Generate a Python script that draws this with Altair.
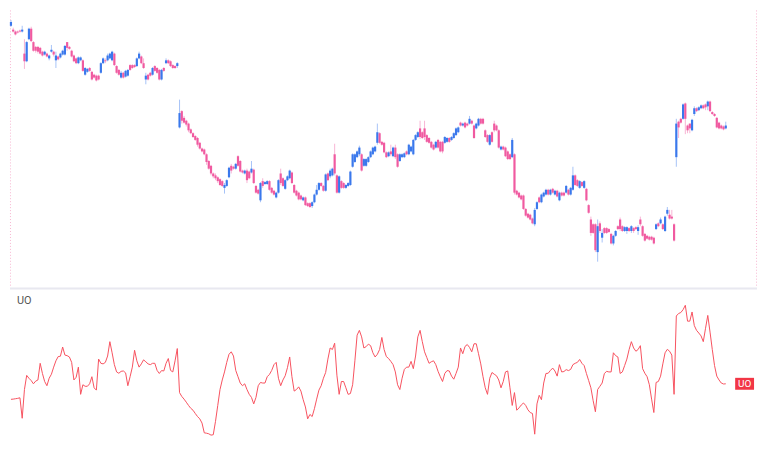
import altair as alt
import pandas as pd

BLUE = "#3a78ec"
PINK = "#f05aa0"
UO_RED = "#f7525f"
LABEL_RED = "#f23645"

# OHLC values (price units) read from the candles, left to right
open_ = [284,280,278,278,279,278,255,247,270,281,267,262,262,261,257,254,255,250,257,257,
         248,252,251,254,254,267,262,258,253,250,245,248,248,233,236,240,236,233,232,232,
         235,245,248,248,250,248,255,242,238,230,235,231,232,243,243,243,242,250,252,245,
         228,233,235,233,242,240,238,228,240,245,248,247,243,242,242,
         178,195,188,185,182,176,172,169,167,162,156,155,150,143,138,130,128,126,124,122,
         115,117,126,138,137,135,148,143,133,130,133,132,131,134,117,113,102,122,119,119,
         122,115,112,105,110,130,125,114,123,125,131,118,112,110,107,102,105,99,99,96,
         100,108,113,120,117,112,130,127,128,150,
         128,110,122,120,115,117,118,137,142,147,150,150,138,138,142,147,150,153,162,172,
         163,162,152,148,153,148,157,150,143,147,147,153,150,153,150,165,168,177,173,177,
         170,167,163,160,157,165,163,163,162,163,167,165,167,170,173,183,180,183,182,182,
         185,180,177,180,187,187,175,170,160,173,182,180,175,155,158,157,153,150,
         147,150,112,110,107,107,93,88,87,83,77,93,105,100,106,108,113,108,114,108,
         112,102,110,110,110,113,108,113,128,123,115,121,115,114,97,82,77,77,48,78,
         63,73,73,72,67,57,65,75,82,75,70,70,73,70,73,74,70,82,75,67,
         65,64,64,63,72,78,78,77,70,88,87,85,77,
         147,184,187,187,203,180,182,175,192,198,196,198,201,202,200,205,194,192,188,183,
         180,179,177]
high = [290,282,279,279,280,284,270,268,282,283,268,263,263,262,258,258,256,254,264,258,
        257,253,256,259,264,267,263,259,254,251,252,252,249,241,240,241,237,234,233,233,
        246,251,250,255,256,258,256,243,239,237,236,238,239,244,244,244,251,257,253,250,
        235,234,236,241,243,241,239,239,241,250,249,248,244,243,246,
        207,196,190,186,183,177,173,170,168,163,157,156,151,144,139,131,130,127,125,123,
        120,124,137,140,138,141,149,144,134,134,135,133,143,135,118,114,121,125,122,123,
        123,116,113,111,124,135,126,124,128,134,132,119,113,111,108,106,106,100,100,101,
        109,118,121,121,118,130,131,135,136,161,
        129,128,123,121,119,121,133,151,151,154,159,151,146,146,148,154,158,159,182,173,
        164,163,153,153,160,158,160,151,151,151,152,154,161,159,166,171,174,185,174,185,
        171,168,164,161,164,166,164,164,169,168,168,169,173,178,179,184,183,184,183,190,
        186,181,183,188,188,188,176,171,171,174,185,181,176,159,159,158,154,151,
        167,151,113,111,108,108,94,89,88,84,94,101,106,109,111,114,114,114,115,113,
        113,111,111,111,118,114,116,137,129,124,123,122,123,115,98,85,78,78,82,80,
        72,74,74,73,68,66,71,76,84,76,75,75,74,76,74,75,76,85,76,68,
        66,65,65,64,78,79,84,78,86,95,92,92,78,
        187,185,188,203,204,181,182,187,200,199,200,202,202,203,206,206,195,193,189,184,
        181,180,184]
low = [283,277,274,276,277,277,239,246,269,267,257,256,255,254,252,253,251,248,256,252,
       240,248,250,253,253,258,259,251,246,244,244,247,236,232,235,236,227,229,226,227,
       234,244,245,247,249,247,242,234,232,229,229,230,231,237,239,240,241,249,244,239,
       223,227,231,232,236,234,227,227,236,244,244,241,239,239,240,
       177,182,182,179,173,171,167,164,158,155,152,149,139,134,128,125,123,120,117,116,
       109,116,125,130,134,134,137,131,130,129,120,124,130,119,109,108,100,115,118,118,
       112,109,107,104,109,118,116,113,122,124,119,109,106,102,102,101,96,95,94,94,
       99,107,112,116,111,111,122,125,127,128,
       109,109,114,114,114,116,117,136,141,146,148,132,137,137,141,146,149,152,160,161,
       159,151,146,147,148,147,145,136,142,146,146,149,149,152,149,164,167,166,166,165,
       162,161,156,154,156,156,152,151,161,162,162,164,166,169,172,179,179,177,179,181,
       181,166,176,179,181,181,167,162,159,162,173,174,156,154,154,147,144,144,
       146,108,107,104,102,92,85,83,81,77,75,92,99,99,105,107,107,107,109,107,
       105,101,106,106,109,107,107,112,117,116,114,116,114,101,88,65,67,48,38,68,
       58,67,67,68,56,55,64,71,70,69,69,67,69,68,68,71,66,75,64,59,
       61,60,60,56,71,74,77,71,69,86,82,82,59,
       137,167,182,186,171,172,172,174,190,194,195,197,197,196,196,194,191,189,177,176,
       176,175,176]
close = [288,278,275,277,278,280,247,267,281,268,258,258,257,255,253,257,252,253,259,254,
         253,249,255,258,263,261,260,252,247,245,251,251,237,240,239,237,228,230,227,228,
         245,250,247,253,255,257,243,235,233,235,230,237,238,238,240,241,250,255,245,240,
         232,228,232,240,237,235,228,238,237,248,245,242,240,240,245,
         193,185,183,181,175,172,168,165,160,156,153,150,142,135,130,127,125,122,118,117,
         118,123,136,133,135,140,138,132,131,133,123,125,135,120,110,109,120,117,121,122,
         113,110,108,110,123,120,117,123,127,133,120,110,107,103,103,105,97,96,95,100,
         108,113,120,117,112,129,123,133,135,130,
         110,127,115,115,118,120,132,150,150,153,157,133,145,145,147,153,157,158,173,162,
         160,152,147,152,150,157,147,137,150,150,151,150,160,158,165,170,173,168,167,168,
         163,162,157,155,163,157,153,153,168,167,163,168,172,177,178,180,182,178,180,187,
         182,167,182,187,182,182,168,163,170,163,175,175,157,158,155,148,145,145,
         165,110,108,105,103,93,86,84,82,78,92,100,100,108,110,113,108,113,110,112,
         106,110,107,107,117,108,115,128,118,117,122,117,122,102,89,68,68,50,75,70,
         68,68,68,69,57,65,70,72,72,70,74,74,70,75,70,72,74,77,65,60,
         62,61,61,57,77,75,82,72,85,92,83,83,60,
         182,178,183,202,187,175,177,186,198,195,199,201,198,199,205,195,192,190,178,177,
         177,176,180]

# Ultimate Oscillator values, one per candle
uo = [42.2,42.3,42.5,42.7,43.0,32.3,47.3,54.7,53.2,52.0,50.3,
      51.7,52.3,61.0,55.7,51.5,49.3,53.2,55.3,59.0,62.3,
      64.5,64.7,69.5,65.3,65.0,64.3,61.5,52.3,53.7,59.0,
      44.8,49.8,49.0,49.0,50.3,54.0,48.2,47.0,63.2,61.0,
      60.7,61.5,64.8,72.3,66.5,60.3,56.5,55.8,56.8,57.0,
      56.0,49.3,54.0,59.0,67.8,62.3,59.0,60.7,62.8,61.8,
      60.7,60.3,61.0,61.0,57.3,55.7,57.2,57.0,61.0,63.5,
      57.3,56.5,62.3,68.7,45.7,43.7,42.3,40.7,39.0,37.5,
      36.5,34.8,33.2,32.0,29.8,24.7,24.5,24.2,23.5,23.7,
      30.7,39.0,47.3,52.3,56.5,61.5,65.7,67.0,64.8,57.3,
      54.0,50.7,49.3,50.3,47.3,44.8,43.2,39.8,43.2,49.3,
      51.0,50.7,50.7,54.0,55.2,57.3,60.3,61.5,53.2,49.3,
      52.3,54.5,58.7,64.3,54.0,46.5,47.3,48.7,46.5,42.0,
      38.2,32.0,34.3,33.2,37.3,42.3,47.0,49.3,53.2,56.2,
      63.2,69.0,68.2,71.5,54.8,44.8,51.5,51.5,48.2,44.8,
      45.2,49.8,62.3,75.7,78.2,74.8,69.0,69.7,71.0,70.2,
      66.5,64.3,65.7,68.2,74.5,68.2,64.5,63.5,62.0,60.3,
      56.5,49.8,47.3,53.2,57.8,59.0,59.0,62.0,58.2,64.8,
      74.8,78.2,72.3,67.0,64.0,61.0,61.8,62.3,60.3,56.8,
      54.0,51.5,55.7,57.2,57.0,54.3,52.7,55.7,59.0,69.0,
      66.0,69.8,70.8,69.3,67.0,71.2,71.2,66.0,60.7,54.0,
      48.2,44.8,53.2,56.2,55.3,54.5,52.3,48.2,51.5,56.5,
      57.0,48.2,39.0,45.7,36.5,37.7,39.2,40.3,39.0,36.7,
      35.3,34.8,24.0,39.8,44.3,42.0,50.7,55.7,55.8,57.3,
      58.5,57.0,54.3,60.3,56.5,56.7,57.7,57.2,57.8,60.3,
      61.0,61.5,63.0,61.0,59.8,55.7,52.0,48.2,41.5,35.7,
      47.3,49.0,50.7,55.7,56.8,56.5,56.5,66.5,65.0,64.3,
      55.7,56.5,59.8,63.2,68.2,72.3,69.0,67.3,68.2,70.2,
      58.2,55.8,54.0,49.8,42.3,35.3,51.0,51.5,54.3,60.7,
      66.5,68.3,67.3,65.3,44.8,85.7,87.0,87.5,89.0,91.3,
      83.0,83.0,87.8,80.7,78.2,76.8,75.3,72.3,79.3,86.0,
      77.3,68.2,59.8,54.3,52.3,50.7,50.2,50.3]

n = min(len(open_), len(high), len(low), len(close), len(uo))
df = pd.DataFrame({
    "day": list(range(n)),
    "open": open_[:n], "high": high[:n], "low": low[:n], "close": close[:n],
    "uo": uo[:n],
})
df["dir"] = ["up" if c >= o else "down" for o, c in zip(df["open"], df["close"])]

W = 752
H_TOP = 278
H_BOT = 161

xenc = alt.X("day:Q", scale=alt.Scale(domain=[-0.43, 331.9], nice=False, zero=False), axis=None)
color = alt.Color("dir:N", scale=alt.Scale(domain=["up", "down"], range=[BLUE, PINK]), legend=None)
yprice = alt.Scale(domain=[12, 300], nice=False, zero=False)

base = alt.Chart(df)
wicks = base.mark_rule(strokeWidth=1, opacity=0.45).encode(
    x=xenc, y=alt.Y("low:Q", scale=yprice, axis=None), y2="high:Q", color=color)
bodies = base.mark_rule(strokeWidth=2.2).encode(
    x=xenc, y=alt.Y("open:Q", scale=yprice, axis=None), y2="close:Q", color=color)
edge = pd.DataFrame({"k": [0]})
left_edge = alt.Chart(edge).mark_rule(color="#f7b6d2", strokeWidth=1, strokeDash=[1, 2]).encode(
    x=alt.value(0.5), y=alt.value(0), y2=alt.value(H_TOP))
right_edge = alt.Chart(edge).mark_rule(color="#f7b6d2", strokeWidth=1, strokeDash=[1, 2]).encode(
    x=alt.value(W - 0.5), y=alt.value(0), y2=alt.value(H_TOP))
top = alt.layer(left_edge, right_edge, wicks, bodies).properties(width=W, height=H_TOP)

yuo = alt.Scale(domain=[16.5, 100], nice=False, zero=False)
line = base.mark_line(color=UO_RED, strokeWidth=1).encode(
    x=xenc, y=alt.Y("uo:Q", scale=yuo, axis=None))

sep = alt.Chart(edge).mark_rule(color="#e8e8f0", strokeWidth=2).encode(
    x=alt.value(0), x2=alt.value(W), y=alt.value(0))
title = alt.Chart(pd.DataFrame({"t": ["UO"]})).mark_text(
    align="left", baseline="middle", fontSize=11, color="#555555", font="Roboto").encode(
    x=alt.value(7), y=alt.value(12), text="t:N")

last = pd.DataFrame({"uo": [uo[n - 1]], "t": ["UO"]})
tag_bg = alt.Chart(last).mark_rule(color=LABEL_RED, strokeWidth=12).encode(
    x=alt.value(730), x2=alt.value(749), y=alt.Y("uo:Q", scale=yuo, axis=None))
tag_txt = alt.Chart(last).mark_text(
    align="center", baseline="middle", fontSize=10, color="white", font="Roboto").encode(
    x=alt.value(739.5), y=alt.Y("uo:Q", scale=yuo, axis=None), text="t:N")

bottom = alt.layer(line, sep, title, tag_bg, tag_txt).properties(width=W, height=H_BOT)

chart = alt.vconcat(top, bottom, spacing=0).properties(padding=0).configure_view(stroke=None)
chart.save("out.html", embed_options={"renderer": "svg", "actions": False})
